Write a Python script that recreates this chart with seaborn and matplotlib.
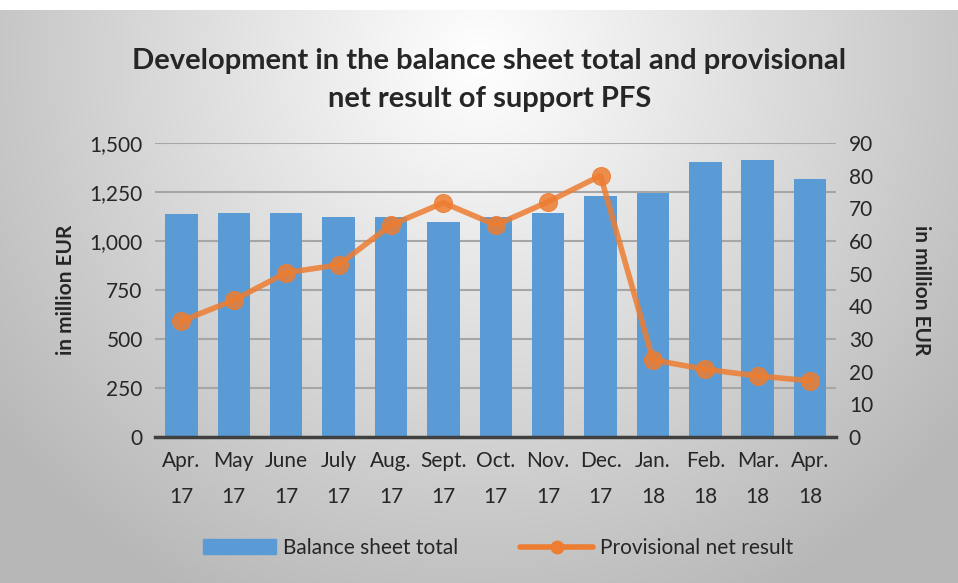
import numpy as np
import matplotlib
matplotlib.use("Agg")
import matplotlib.pyplot as plt
import seaborn as sns
from matplotlib.lines import Line2D
from matplotlib.patches import Patch

# data
months = ["Apr.\n17", "May\n17", "June\n17", "July\n17", "Aug.\n17", "Sept.\n17",
          "Oct.\n17", "Nov.\n17", "Dec.\n17", "Jan.\n18", "Feb.\n18", "Mar.\n18", "Apr.\n18"]
balance_total = [1138, 1144, 1144, 1124, 1124, 1098, 1122, 1144, 1230, 1243, 1405, 1413, 1315]
net_result = [35.5, 41.9, 50.3, 52.7, 64.9, 71.7, 64.9, 72.0, 80.0, 23.6, 20.7, 18.7, 17.2]

sns.set_style("white")
plt.rcParams["font.family"] = ["Lato", "DejaVu Sans"]

blue = "#5B9BD5"
orange = "#ED7D31"

fig = plt.figure(figsize=(9.58, 5.83), dpi=100)

# radial gray background
bg = fig.add_axes([0, 0, 1, 1], zorder=-10)
yy, xx = np.mgrid[0:583, 0:958]
r = np.sqrt(((xx - 479) / 520.0) ** 2 + ((yy - 60) / 520.0) ** 2)
shade = np.clip(1.0 - 0.24 * r, 0.72, 1.0)
img = np.dstack([shade, shade, shade])
img[:10, :, :] = 1.0
bg.imshow(img, aspect="auto", extent=[0, 1, 0, 1])
bg.axis("off")

ax = fig.add_axes([0.162, 0.2504, 0.711, 0.5043])
ax.patch.set_alpha(0)
x = np.arange(len(months))
sns.barplot(x=x, y=balance_total, color=blue, width=0.62, saturation=1, linewidth=0,
            ax=ax, zorder=2)
ax.set_ylim(0, 1500)
ax.set_yticks(range(0, 1501, 250))
ax.set_yticklabels([f"{v:,}" for v in range(0, 1501, 250)], fontsize=15, color="#262626")
ax.set_xlim(-0.5, 12.5)
ax.set_xticks(x)
ax.set_xticklabels(months, fontsize=15, color="#262626", linespacing=2.0)
ax.set_xticks(np.arange(-0.5, 13, 1), minor=True)
ax.tick_params(axis="x", which="major", length=0, pad=10)
ax.tick_params(axis="x", which="minor", length=6, width=2, color="#404040")
ax.tick_params(axis="y", length=0, pad=9)
ax.grid(axis="y", color="#A6A6A6", linewidth=1.5, zorder=0)
ax.set_axisbelow(True)
for s in ["top", "right", "left"]:
    ax.spines[s].set_visible(False)
ax.spines["bottom"].set_color("#404040")
ax.spines["bottom"].set_linewidth(2.5)
ax.spines["bottom"].set_zorder(5)
ax.set_ylabel("in million EUR", fontsize=15, fontweight="bold", labelpad=10)

ax2 = ax.twinx()
sns.lineplot(x=x, y=net_result, color=orange, linewidth=4, marker="o", markersize=13,
             markeredgecolor=orange, alpha=0.85, ax=ax2)
ax2.set_ylim(0, 90)
ax2.set_yticks(range(0, 91, 10))
ax2.set_yticklabels([str(v) for v in range(0, 91, 10)], fontsize=15, color="#262626")
ax2.tick_params(axis="y", length=0, pad=9)
for s in ["top", "right", "left", "bottom"]:
    ax2.spines[s].set_visible(False)
ax2.set_ylabel("in million EUR", fontsize=15, fontweight="bold", rotation=270, labelpad=42)

fig.text(0.511, 0.863, "Development in the balance sheet total and provisional\nnet result of support PFS",
         ha="center", va="center", fontsize=21, fontweight="bold", linespacing=1.55)

handles = [Patch(facecolor=blue, edgecolor=blue),
           Line2D([0], [0], color=orange, linewidth=4, marker="o", markersize=9)]
fig.legend(handles, ["Balance sheet total", "Provisional net result"], loc="center",
           bbox_to_anchor=(0.52, 0.06), ncol=2, frameon=False, fontsize=15,
           handlelength=3.5, handletextpad=0.3, columnspacing=3)

fig.savefig("out.png", dpi=100)
